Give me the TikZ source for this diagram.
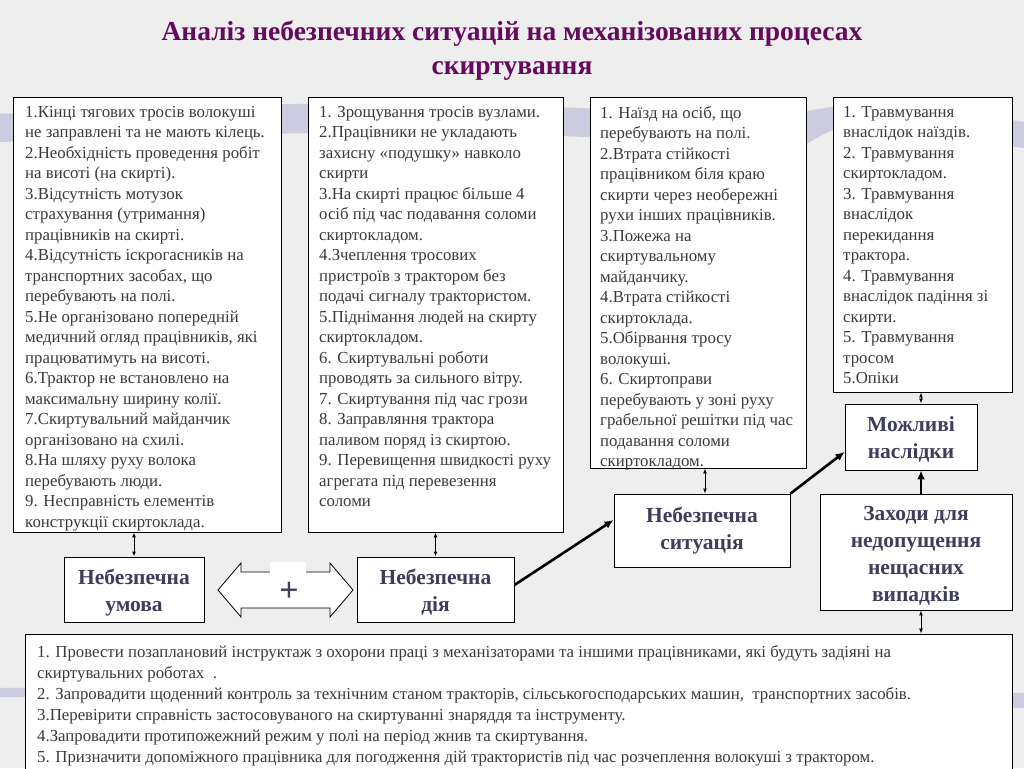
\documentclass[tikz,border=0pt]{standalone}
\usepackage{fontspec}
\setmainfont{Liberation Serif}
\usetikzlibrary{arrows.meta}
\definecolor{bgcol}{HTML}{EEEEEE}
\definecolor{swoosh}{HTML}{CCCCE0}
\definecolor{titlecol}{HTML}{660A5E}
\definecolor{headcol}{HTML}{3E3E5C}
\definecolor{bodycol}{HTML}{3A3A3A}
\tikzset{
  frame/.style={draw=black, line width=0.9pt, fill=white, rectangle, inner sep=0pt},
  bodytext/.style={anchor=north west, inner sep=0pt, align=left, text=bodycol,
    font=\fontsize{16.8}{20.5}\selectfont},
  headtext/.style={inner sep=0pt, align=center, text=headcol,
    font=\fontsize{21.5}{27}\selectfont\bfseries},
  thin2/.style={{Latex[length=5pt,width=4pt]}-{Latex[length=5pt,width=4pt]}, line width=1pt},
  thick1/.style={-{Latex[length=9pt,width=8pt]}, line width=2.6pt},
}
\begin{document}
\begin{tikzpicture}[x=1pt,y=-1pt]
\useasboundingbox (0,0) rectangle (1024,768);
\fill[bgcol] (0,0) rectangle (1024,768);
% faint background swooshes
\fill[swoosh] (0,114) .. controls (250,100) and (500,100) .. (700,115)
  .. controls (780,122) and (800,110) .. (840,106) .. controls (920,104) and (980,115) .. (1024,122)
  -- (1024,148) .. controls (960,140) and (900,135) .. (840,128)
  .. controls (810,135) and (800,160) .. (760,150)
  .. controls (600,130) and (300,128) .. (0,142) -- cycle;
\fill[swoosh] (0,688) .. controls (300,684) and (700,690) .. (1024,693) -- (1024,708)
  .. controls (700,702) and (300,698) .. (0,697) -- cycle;

% title
\node[inner sep=0pt, align=center, text=titlecol, font=\fontsize{27.5}{34}\selectfont\bfseries]
  (title) at (512,50.5) {Аналіз небезпечних ситуацій на механізованих процесах\\скиртування};

% list boxes
\node[frame, minimum width=268pt, minimum height=435pt] (b1) at (147,314.5) {};
\node[frame, minimum width=255pt, minimum height=435pt] (b2) at (435.5,314.5) {};
\node[frame, minimum width=216pt, minimum height=371pt] (b3) at (698,282.5) {};
\node[frame, minimum width=179pt, minimum height=295pt] (b4) at (922.5,244.5) {};

\node[bodytext] (t1) at (25,106) {1.Кінці тягових тросів волокуші\\
не заправлені та не мають кілець.\\
2.Необхідність проведення робіт\\
на висоті (на скирті).\\
3.Відсутність мотузок\\
страхування (утримання)\\
працівників на скирті.\\
4.Відсутність іскрогасників на\\
транспортних засобах, що\\
перебувають на полі.\\
5.Не організовано попередній\\
медичний огляд працівників, які\\
працюватимуть на висоті.\\
6.Трактор не встановлено на\\
максимальну ширину колії.\\
7.Скиртувальний майданчик\\
організовано на схилі.\\
8.На шляху руху волока\\
перебувають люди.\\
9. Несправність елементів\\
конструкції скиртоклада.};

\node[bodytext] (t2) at (319,106) {1. Зрощування тросів вузлами.\\
2.Працівники не укладають\\
захисну «подушку» навколо\\
скирти\\
3.На скирті працює більше 4\\
осіб під час подавання соломи\\
скиртокладом.\\
4.Зчеплення тросових\\
пристроїв з трактором без\\
подачі сигналу трактористом.\\
5.Піднімання людей на скирту\\
скиртокладом.\\
6. Скиртувальні роботи\\
проводять за сильного вітру.\\
7. Скиртування під час грози\\
8. Заправляння трактора\\
паливом поряд із скиртою.\\
9. Перевищення швидкості руху\\
агрегата під перевезення\\
соломи};

\node[bodytext] (t3) at (600,106) {1. Наїзд на осіб, що\\
перебувають на полі.\\
2.Втрата стійкості\\
працівником біля краю\\
скирти через необережні\\
рухи інших працівників.\\
3.Пожежа на\\
скиртувальному\\
майданчику.\\
4.Втрата стійкості\\
скиртоклада.\\
5.Обірвання тросу\\
волокуші.\\
6. Скиртоправи\\
перебувають у зоні руху\\
грабельної решітки під час\\
подавання соломи\\
скиртокладом.};

\node[bodytext] (t4) at (843,106) {1. Травмування\\
внаслідок наїздів.\\
2. Травмування\\
скиртокладом.\\
3. Травмування\\
внаслідок\\
перекидання\\
трактора.\\
4. Травмування\\
внаслідок падіння зі\\
скирти.\\
5. Травмування\\
тросом\\
5.Опіки};

% heading boxes
\node[frame, minimum width=140pt, minimum height=65pt] (umova) at (134,589.5) {};
\node[headtext, yshift=-3pt] at (umova) {Небезпечна\\умова};
\node[frame, minimum width=157pt, minimum height=65pt] (diia) at (435.5,589.5) {};
\node[headtext, yshift=-3pt] at (diia) {Небезпечна\\дія};
\node[frame, minimum width=176pt, minimum height=73pt] (sit) at (702,530.5) {};
\node[headtext, yshift=0pt] at (sit) {Небезпечна\\ситуація};
\node[frame, minimum width=132pt, minimum height=66pt] (nasl) at (911,437) {};
\node[headtext, yshift=-2pt] at (nasl) {Можливі\\наслідки};
\node[frame, minimum width=192pt, minimum height=116pt] (zakh) at (916,552) {};
\node[headtext, yshift=-4pt] at (zakh) {Заходи для\\недопущення\\нещасних\\випадків};

% bottom box
\node[frame, minimum width=987pt, minimum height=140pt] (b5) at (518.5,704) {};
\node[bodytext, font=\fontsize{16.8}{21}\selectfont] (t5) at (37,645) {1. Провести позаплановий інструктаж з охорони праці з механізаторами та іншими працівниками, які будуть задіяні на\\
скиртувальних роботах~~.\\
2. Запровадити щоденний контроль за технічним станом тракторів, сільськогосподарських машин,~ транспортних засобів.\\
3.Перевірити справність застосовуваного на скиртуванні знаряддя та інструменту.\\
4.Запровадити протипожежний режим у полі на період жнив та скиртування.\\
5. Призначити допоміжного працівника для погодження дій трактористів під час розчеплення волокуші з трактором.};

% big double arrow with plus
\draw[black, line width=0.8pt, fill=white] (218,590) -- (241,563) -- (241,572) -- (330,572) -- (330,563)
  -- (353,590) -- (330,617) -- (330,608) -- (241,608) -- (241,617) -- cycle;
\fill[white] (270,562) rectangle (306,578);
\node[inner sep=0pt, text=headcol, font=\fontsize{34}{34}\selectfont\bfseries] (plus) at (289,592) {+};

% connectors
\draw[thin2] (b1.south -| umova.north) -- (umova.north);
\draw[thin2] (b2.south) -- (diia.north);
\draw[thin2] (b3.south -| 705,0) -- (sit.north -| 705,0);
\draw[thin2] (b4.south -| 921,0) -- (nasl.north -| 921,0);
\draw[thin2] (zakh.south -| 921,0) -- (b5.north -| 921,0);
\draw[thick1] (diia.east |- 0,585) -- (sit.west |- 0,520);
\draw[thick1] (sit.north east) -- (nasl.west |- 0,452);
\draw[thick1] (zakh.north -| 921,0) -- (nasl.south -| 921,0);
\end{tikzpicture}
\end{document}
